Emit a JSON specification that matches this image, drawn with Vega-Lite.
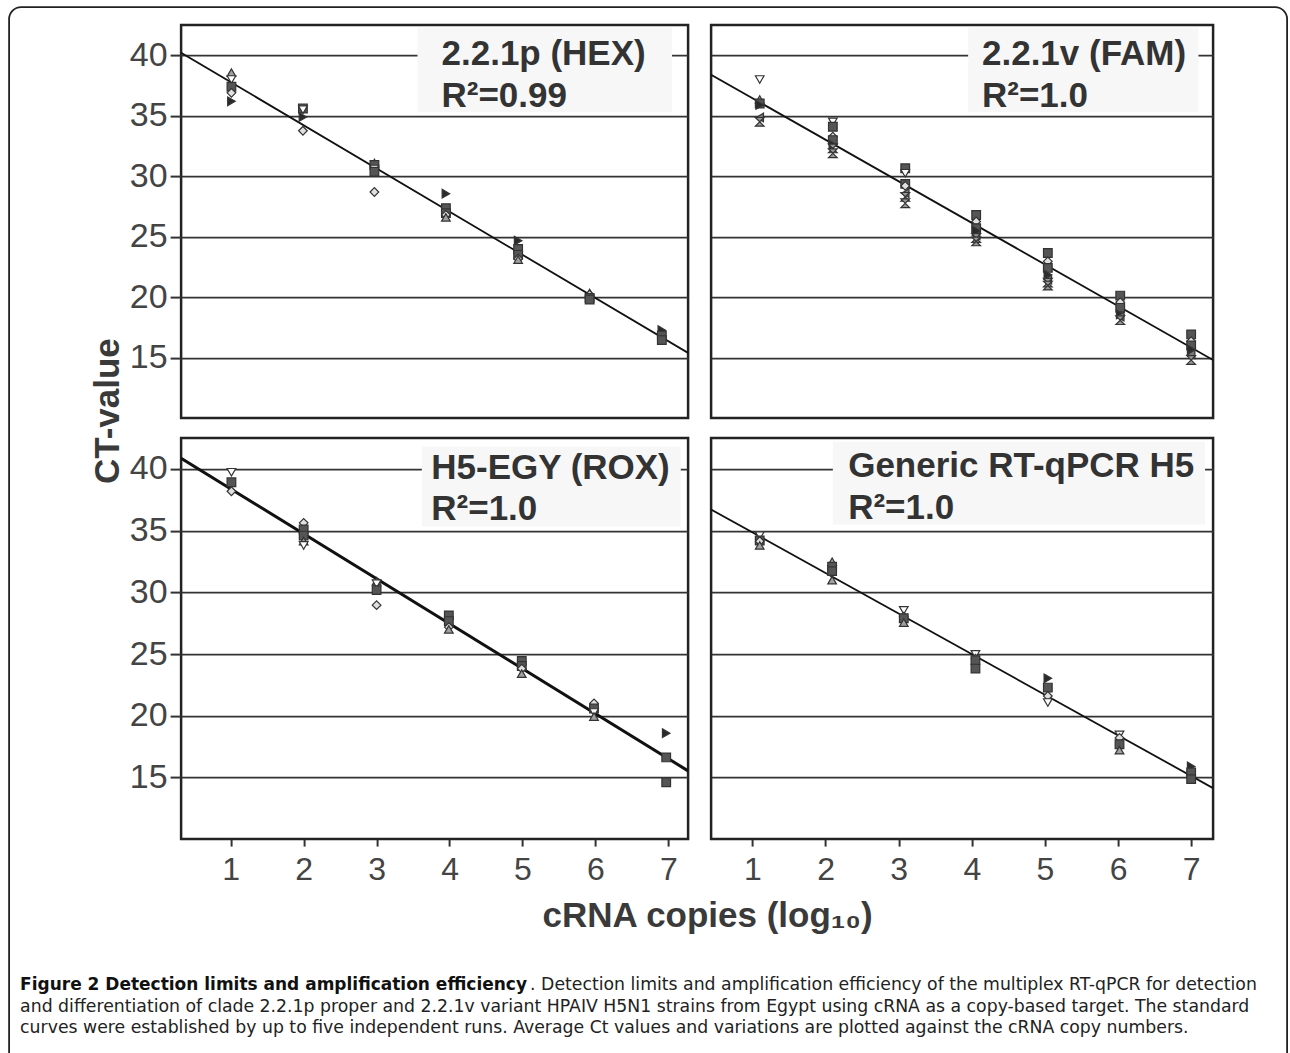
{
  "$schema": "https://vega.github.io/schema/vega-lite/v6.json",
  "background": "white",
  "padding": {"left": 8.1, "top": 6.1, "right": 2, "bottom": 0},
  "columns": 2,
  "spacing": {"row": 20, "column": 23},
  "bounds": "flush",
  "datasets": {
    "pts_tl": [
      {"x": 1.01, "y": 38.57, "s": "tup"}, {"x": 1.01, "y": 38.0, "s": "tdn"}, {"x": 1.01, "y": 37.4, "s": "sq"}, {"x": 1.01, "y": 36.9, "s": "dia"}, {"x": 1.01, "y": 36.2, "s": "trt"},
      {"x": 1.99, "y": 35.6, "s": "sq"}, {"x": 1.99, "y": 35.5, "s": "tdn"}, {"x": 1.99, "y": 34.9, "s": "trt"}, {"x": 1.99, "y": 33.76, "s": "dia"},
      {"x": 2.97, "y": 31.1, "s": "tup"}, {"x": 2.97, "y": 30.93, "s": "sq"}, {"x": 2.97, "y": 30.6, "s": "tdn"}, {"x": 2.97, "y": 30.38, "s": "sq"}, {"x": 2.97, "y": 28.7, "s": "dia"},
      {"x": 3.95, "y": 28.56, "s": "trt"}, {"x": 3.95, "y": 27.36, "s": "sq"}, {"x": 3.95, "y": 26.95, "s": "sq"}, {"x": 3.95, "y": 26.8, "s": "dia"}, {"x": 3.95, "y": 26.6, "s": "tup"},
      {"x": 4.94, "y": 24.67, "s": "trt"}, {"x": 4.94, "y": 23.98, "s": "sq"}, {"x": 4.94, "y": 23.5, "s": "sq"}, {"x": 4.94, "y": 23.18, "s": "dia"}, {"x": 4.94, "y": 23.1, "s": "tup"},
      {"x": 5.92, "y": 20.35, "s": "tup"}, {"x": 5.92, "y": 20.2, "s": "dia"}, {"x": 5.92, "y": 19.94, "s": "sq"}, {"x": 5.92, "y": 19.8, "s": "sq"},
      {"x": 6.91, "y": 17.27, "s": "trt"}, {"x": 6.91, "y": 16.84, "s": "sq"}, {"x": 6.91, "y": 16.45, "s": "sq"}
    ],
    "pts_tr": [
      {"x": 1.1, "y": 38.0, "s": "tdn"}, {"x": 1.1, "y": 36.35, "s": "tup"}, {"x": 1.1, "y": 36.02, "s": "sq"}, {"x": 1.1, "y": 35.9, "s": "trt"}, {"x": 1.1, "y": 34.86, "s": "tlt"}, {"x": 1.1, "y": 34.5, "s": "hg"},
      {"x": 2.1, "y": 34.5, "s": "tdn"}, {"x": 2.1, "y": 34.09, "s": "sq"}, {"x": 2.1, "y": 33.27, "s": "dia"}, {"x": 2.1, "y": 32.99, "s": "sq"}, {"x": 2.1, "y": 32.6, "s": "trt"}, {"x": 2.1, "y": 32.3, "s": "hg"}, {"x": 2.1, "y": 31.9, "s": "hg"},
      {"x": 3.09, "y": 30.66, "s": "sq"}, {"x": 3.09, "y": 30.25, "s": "tdn"}, {"x": 3.09, "y": 29.37, "s": "sq"}, {"x": 3.09, "y": 29.2, "s": "dia"}, {"x": 3.09, "y": 28.6, "s": "tlt"}, {"x": 3.09, "y": 28.3, "s": "hg"}, {"x": 3.09, "y": 27.77, "s": "hg"},
      {"x": 4.06, "y": 26.8, "s": "sq"}, {"x": 4.06, "y": 26.26, "s": "dia"}, {"x": 4.06, "y": 25.71, "s": "sq"}, {"x": 4.06, "y": 25.5, "s": "trt"}, {"x": 4.06, "y": 25.1, "s": "tlt"}, {"x": 4.06, "y": 24.89, "s": "hg"}, {"x": 4.06, "y": 24.61, "s": "hg"},
      {"x": 5.04, "y": 23.65, "s": "sq"}, {"x": 5.04, "y": 22.96, "s": "dia"}, {"x": 5.04, "y": 22.42, "s": "sq"}, {"x": 5.04, "y": 21.86, "s": "trt"}, {"x": 5.04, "y": 21.45, "s": "tlt"}, {"x": 5.04, "y": 21.2, "s": "hg"}, {"x": 5.04, "y": 20.96, "s": "hg"},
      {"x": 6.03, "y": 20.13, "s": "sq"}, {"x": 6.03, "y": 19.58, "s": "dia"}, {"x": 6.03, "y": 19.12, "s": "sq"}, {"x": 6.03, "y": 18.57, "s": "trt"}, {"x": 6.03, "y": 18.4, "s": "tlt"}, {"x": 6.03, "y": 18.1, "s": "hg"},
      {"x": 7.0, "y": 16.92, "s": "sq"}, {"x": 7.0, "y": 16.36, "s": "dia"}, {"x": 7.0, "y": 16.0, "s": "sq"}, {"x": 7.0, "y": 15.68, "s": "trt"}, {"x": 7.0, "y": 15.27, "s": "tlt"}, {"x": 7.0, "y": 14.8, "s": "hg"}
    ],
    "pts_bl": [
      {"x": 1.01, "y": 39.73, "s": "tdn"}, {"x": 1.01, "y": 38.92, "s": "sq"}, {"x": 1.01, "y": 38.19, "s": "dia"},
      {"x": 2.0, "y": 35.63, "s": "dia"}, {"x": 2.0, "y": 35.09, "s": "sq"}, {"x": 2.0, "y": 34.6, "s": "sq"}, {"x": 2.0, "y": 34.15, "s": "tup"}, {"x": 2.0, "y": 33.8, "s": "tdn"},
      {"x": 3.0, "y": 30.9, "s": "tup"}, {"x": 3.0, "y": 30.7, "s": "tdn"}, {"x": 3.0, "y": 30.18, "s": "sq"}, {"x": 3.0, "y": 28.96, "s": "dia"},
      {"x": 3.99, "y": 28.13, "s": "sq"}, {"x": 3.99, "y": 27.67, "s": "sq"}, {"x": 3.99, "y": 27.18, "s": "dia"}, {"x": 3.99, "y": 27.0, "s": "tup"},
      {"x": 4.99, "y": 24.43, "s": "sq"}, {"x": 4.99, "y": 24.03, "s": "sq"}, {"x": 4.99, "y": 23.82, "s": "dia"}, {"x": 4.99, "y": 23.41, "s": "tup"},
      {"x": 5.98, "y": 21.0, "s": "dia"}, {"x": 5.98, "y": 20.58, "s": "sq"}, {"x": 5.98, "y": 20.26, "s": "tdn"}, {"x": 5.98, "y": 19.93, "s": "tup"},
      {"x": 6.97, "y": 18.58, "s": "trt"}, {"x": 6.97, "y": 16.62, "s": "sq"}, {"x": 6.97, "y": 14.6, "s": "sq"}
    ],
    "pts_br": [
      {"x": 1.1, "y": 34.6, "s": "tdn"}, {"x": 1.1, "y": 34.2, "s": "sq"}, {"x": 1.1, "y": 34.14, "s": "dia"}, {"x": 1.1, "y": 33.8, "s": "tup"},
      {"x": 2.09, "y": 32.48, "s": "tup"}, {"x": 2.09, "y": 32.07, "s": "sq"}, {"x": 2.09, "y": 31.72, "s": "sq"}, {"x": 2.09, "y": 30.99, "s": "tup"},
      {"x": 3.07, "y": 28.54, "s": "tdn"}, {"x": 3.07, "y": 28.03, "s": "dia"}, {"x": 3.07, "y": 27.9, "s": "sq"}, {"x": 3.07, "y": 27.54, "s": "tup"},
      {"x": 4.05, "y": 24.97, "s": "tdn"}, {"x": 4.05, "y": 24.63, "s": "dia"}, {"x": 4.05, "y": 24.5, "s": "sq"}, {"x": 4.05, "y": 23.82, "s": "sq"},
      {"x": 5.04, "y": 23.03, "s": "trt"}, {"x": 5.04, "y": 22.28, "s": "sq"}, {"x": 5.04, "y": 21.6, "s": "dia"}, {"x": 5.04, "y": 21.07, "s": "tdn"},
      {"x": 6.02, "y": 18.45, "s": "tdn"}, {"x": 6.02, "y": 18.2, "s": "dia"}, {"x": 6.02, "y": 17.69, "s": "sq"}, {"x": 6.02, "y": 17.21, "s": "tup"},
      {"x": 7.0, "y": 15.89, "s": "trt"}, {"x": 7.0, "y": 15.4, "s": "sq"}, {"x": 7.0, "y": 14.86, "s": "sq"}
    ],
    "line_tl": [{"x": 0.32, "y": 40.22}, {"x": 7.27, "y": 15.39}],
    "line_tr": [{"x": 0.435, "y": 38.4}, {"x": 7.3, "y": 14.8}],
    "line_bl": [{"x": 0.32, "y": 40.87}, {"x": 7.27, "y": 15.53}],
    "line_br": [{"x": 0.435, "y": 36.72}, {"x": 7.3, "y": 14.13}],
    "caption": [
      {"line": 1, "seg": "title", "text": "Figure 2 Detection limits and amplification efficiency"},
      {"line": 1, "seg": "lead", "text": ". Detection limits and amplification efficiency of the multiplex RT-qPCR for detection"},
      {"line": 2, "seg": "body", "text": "and differentiation of clade 2.2.1p proper and 2.2.1v variant HPAIV H5N1 strains from Egypt using cRNA as a copy-based target. The standard"},
      {"line": 3, "seg": "body", "text": "curves were established by up to five independent runs. Average Ct values and variations are plotted against the cRNA copy numbers."}
    ]
  },
  "concat": [
    {
      "width": 507, "height": 393,
      "layer": [
        {"data": {"values": [{}]}, "mark": {"type": "rect", "fill": "#f7f7f7"},
         "encoding": {"x": {"datum": 3.56, "type": "quantitative", "scale": {"domain": [0.32, 7.27], "nice": false, "zero": false}, "axis": null}, "x2": {"datum": 7.05},
                      "y": {"datum": 42.3, "type": "quantitative", "scale": {"domain": [10, 42.5], "nice": false, "zero": false}}, "y2": {"datum": 35.3}}},
        {"data": {"name": "line_tl"}, "mark": {"type": "line", "color": "#111", "strokeWidth": 1.8, "clip": true},
         "encoding": {"x": {"field": "x", "type": "quantitative", "scale": {"domain": [0.32, 7.27], "nice": false, "zero": false}, "axis": null},
                      "y": {"field": "y", "type": "quantitative", "scale": {"domain": [10, 42.5], "nice": false, "zero": false}}}},
        {"data": {"name": "pts_tl"}, "mark": {"type": "point", "filled": true, "opacity": 1, "stroke": "#333", "strokeWidth": 1.2, "size": 75},
         "encoding": {"x": {"field": "x", "type": "quantitative", "scale": {"domain": [0.32, 7.27], "nice": false, "zero": false}, "axis": null},
                      "y": {"field": "y", "type": "quantitative", "scale": {"domain": [10, 42.5], "nice": false, "zero": false},
                            "axis": {"values": [15, 20, 25, 30, 35, 40], "grid": true, "gridColor": "#333", "gridWidth": 1.8, "domain": false, "ticks": true, "tickColor": "#333", "tickWidth": 2, "tickSize": 11, "labelFontSize": 34, "labelColor": "#444", "labelPadding": 3, "title": null}},
                      "shape": {"field": "s", "type": "nominal", "legend": null, "scale": {"domain": ["sq", "dia", "tup", "tdn", "trt", "tlt", "hg"], "range": ["square", "diamond", "triangle-up", "triangle-down", "triangle-right", "triangle-left", "M-1,-1L1,-1L-1,1L1,1Z"]}},
                      "fill": {"field": "s", "type": "nominal", "legend": null, "scale": {"domain": ["sq", "dia", "tup", "tdn", "trt", "tlt", "hg"], "range": ["#555555", "#e0e0e0", "#a0a0a0", "#ffffff", "#2a2a2a", "#777777", "#999999"]}}}},
        {"data": {"values": [{}]}, "mark": {"type": "text", "align": "left", "baseline": "alphabetic", "fontSize": 35, "fontWeight": "bold", "lineHeight": 42, "color": "#333"},
         "encoding": {"x": {"datum": 3.89, "type": "quantitative", "scale": {"domain": [0.32, 7.27], "nice": false, "zero": false}, "axis": null},
                      "y": {"datum": 39.22, "type": "quantitative", "scale": {"domain": [10, 42.5], "nice": false, "zero": false}},
                      "text": {"value": ["2.2.1p (HEX)", "R²=0.99"]}}}
      ]
    },
    {
      "width": 502, "height": 393,
      "layer": [
        {"data": {"values": [{}]}, "mark": {"type": "rect", "fill": "#f7f7f7"},
         "encoding": {"x": {"datum": 3.95, "type": "quantitative", "scale": {"domain": [0.435, 7.3], "nice": false, "zero": false}, "axis": null}, "x2": {"datum": 7.1},
                      "y": {"datum": 42.3, "type": "quantitative", "scale": {"domain": [10, 42.5], "nice": false, "zero": false}}, "y2": {"datum": 35.3}}},
        {"data": {"name": "line_tr"}, "mark": {"type": "line", "color": "#111", "strokeWidth": 1.8, "clip": true},
         "encoding": {"x": {"field": "x", "type": "quantitative", "scale": {"domain": [0.435, 7.3], "nice": false, "zero": false}, "axis": null},
                      "y": {"field": "y", "type": "quantitative", "scale": {"domain": [10, 42.5], "nice": false, "zero": false}}}},
        {"data": {"name": "pts_tr"}, "mark": {"type": "point", "filled": true, "opacity": 1, "stroke": "#333", "strokeWidth": 1.2, "size": 75},
         "encoding": {"x": {"field": "x", "type": "quantitative", "scale": {"domain": [0.435, 7.3], "nice": false, "zero": false}, "axis": null},
                      "y": {"field": "y", "type": "quantitative", "scale": {"domain": [10, 42.5], "nice": false, "zero": false},
                            "axis": {"values": [15, 20, 25, 30, 35, 40], "grid": true, "gridColor": "#333", "gridWidth": 1.8, "domain": false, "ticks": false, "labels": false, "title": null}},
                      "shape": {"field": "s", "type": "nominal", "legend": null, "scale": {"domain": ["sq", "dia", "tup", "tdn", "trt", "tlt", "hg"], "range": ["square", "diamond", "triangle-up", "triangle-down", "triangle-right", "triangle-left", "M-1,-1L1,-1L-1,1L1,1Z"]}},
                      "fill": {"field": "s", "type": "nominal", "legend": null, "scale": {"domain": ["sq", "dia", "tup", "tdn", "trt", "tlt", "hg"], "range": ["#555555", "#e0e0e0", "#a0a0a0", "#ffffff", "#2a2a2a", "#777777", "#999999"]}}}},
        {"data": {"values": [{}]}, "mark": {"type": "text", "align": "left", "baseline": "alphabetic", "fontSize": 35, "fontWeight": "bold", "lineHeight": 42, "color": "#333"},
         "encoding": {"x": {"datum": 4.14, "type": "quantitative", "scale": {"domain": [0.435, 7.3], "nice": false, "zero": false}, "axis": null},
                      "y": {"datum": 39.22, "type": "quantitative", "scale": {"domain": [10, 42.5], "nice": false, "zero": false}},
                      "text": {"value": ["2.2.1v (FAM)", "R²=1.0"]}}}
      ]
    },
    {
      "width": 507, "height": 401,
      "layer": [
        {"data": {"values": [{}]}, "mark": {"type": "rect", "fill": "#f7f7f7"},
         "encoding": {"x": {"datum": 3.62, "type": "quantitative", "scale": {"domain": [0.32, 7.27], "nice": false, "zero": false}}, "x2": {"datum": 7.17},
                      "y": {"datum": 41.8, "type": "quantitative", "scale": {"domain": [10, 42.5], "nice": false, "zero": false}}, "y2": {"datum": 35.33}}},
        {"data": {"name": "line_bl"}, "mark": {"type": "line", "color": "#111", "strokeWidth": 3, "clip": true},
         "encoding": {"x": {"field": "x", "type": "quantitative", "scale": {"domain": [0.32, 7.27], "nice": false, "zero": false}},
                      "y": {"field": "y", "type": "quantitative", "scale": {"domain": [10, 42.5], "nice": false, "zero": false}}}},
        {"data": {"name": "pts_bl"}, "mark": {"type": "point", "filled": true, "opacity": 1, "stroke": "#333", "strokeWidth": 1.2, "size": 75},
         "encoding": {"x": {"field": "x", "type": "quantitative", "scale": {"domain": [0.32, 7.27], "nice": false, "zero": false},
                            "axis": {"values": [1, 2, 3, 4, 5, 6, 7], "format": "d", "grid": false, "domain": false, "tickColor": "#333", "tickWidth": 2, "tickSize": 7, "labelFontSize": 32, "labelColor": "#444", "labelPadding": 8,
                                     "title": "cRNA copies (log₁₀)", "titleFontSize": 35, "titleFontWeight": "bold", "titleColor": "#3a3a3a", "titleX": 526, "titleY": 87, "titleAlign": "center", "titleBaseline": "alphabetic"}},
                      "y": {"field": "y", "type": "quantitative", "scale": {"domain": [10, 42.5], "nice": false, "zero": false},
                            "axis": {"values": [15, 20, 25, 30, 35, 40], "grid": true, "gridColor": "#333", "gridWidth": 1.8, "domain": false, "ticks": true, "tickColor": "#333", "tickWidth": 2, "tickSize": 11, "labelFontSize": 34, "labelColor": "#444", "labelPadding": 3,
                                     "title": "CT-value", "titleFontSize": 35, "titleFontWeight": "bold", "titleColor": "#3a3a3a", "titleAngle": 270, "titleX": -62.5, "titleY": -27.5, "titleAlign": "center", "titleBaseline": "alphabetic"}},
                      "shape": {"field": "s", "type": "nominal", "legend": null, "scale": {"domain": ["sq", "dia", "tup", "tdn", "trt", "tlt", "hg"], "range": ["square", "diamond", "triangle-up", "triangle-down", "triangle-right", "triangle-left", "M-1,-1L1,-1L-1,1L1,1Z"]}},
                      "fill": {"field": "s", "type": "nominal", "legend": null, "scale": {"domain": ["sq", "dia", "tup", "tdn", "trt", "tlt", "hg"], "range": ["#555555", "#e0e0e0", "#a0a0a0", "#ffffff", "#2a2a2a", "#777777", "#999999"]}}}},
        {"data": {"values": [{}]}, "mark": {"type": "text", "align": "left", "baseline": "alphabetic", "fontSize": 35, "fontWeight": "bold", "lineHeight": 41, "color": "#333"},
         "encoding": {"x": {"datum": 3.75, "type": "quantitative", "scale": {"domain": [0.32, 7.27], "nice": false, "zero": false}},
                      "y": {"datum": 39.22, "type": "quantitative", "scale": {"domain": [10, 42.5], "nice": false, "zero": false}},
                      "text": {"value": ["H5-EGY (ROX)", "R²=1.0"]}}}
      ]
    },
    {
      "width": 502, "height": 401,
      "layer": [
        {"data": {"values": [{}]}, "mark": {"type": "rect", "fill": "#f7f7f7"},
         "encoding": {"x": {"datum": 2.1, "type": "quantitative", "scale": {"domain": [0.435, 7.3], "nice": false, "zero": false}}, "x2": {"datum": 7.19},
                      "y": {"datum": 42.2, "type": "quantitative", "scale": {"domain": [10, 42.5], "nice": false, "zero": false}}, "y2": {"datum": 35.5}}},
        {"data": {"name": "line_br"}, "mark": {"type": "line", "color": "#111", "strokeWidth": 1.8, "clip": true},
         "encoding": {"x": {"field": "x", "type": "quantitative", "scale": {"domain": [0.435, 7.3], "nice": false, "zero": false}},
                      "y": {"field": "y", "type": "quantitative", "scale": {"domain": [10, 42.5], "nice": false, "zero": false}}}},
        {"data": {"name": "pts_br"}, "mark": {"type": "point", "filled": true, "opacity": 1, "stroke": "#333", "strokeWidth": 1.2, "size": 75},
         "encoding": {"x": {"field": "x", "type": "quantitative", "scale": {"domain": [0.435, 7.3], "nice": false, "zero": false},
                            "axis": {"values": [1, 2, 3, 4, 5, 6, 7], "format": "d", "grid": false, "domain": false, "tickColor": "#333", "tickWidth": 2, "tickSize": 7, "labelFontSize": 32, "labelColor": "#444", "labelPadding": 8, "title": null}},
                      "y": {"field": "y", "type": "quantitative", "scale": {"domain": [10, 42.5], "nice": false, "zero": false},
                            "axis": {"values": [15, 20, 25, 30, 35, 40], "grid": true, "gridColor": "#333", "gridWidth": 1.8, "domain": false, "ticks": false, "labels": false, "title": null}},
                      "shape": {"field": "s", "type": "nominal", "legend": null, "scale": {"domain": ["sq", "dia", "tup", "tdn", "trt", "tlt", "hg"], "range": ["square", "diamond", "triangle-up", "triangle-down", "triangle-right", "triangle-left", "M-1,-1L1,-1L-1,1L1,1Z"]}},
                      "fill": {"field": "s", "type": "nominal", "legend": null, "scale": {"domain": ["sq", "dia", "tup", "tdn", "trt", "tlt", "hg"], "range": ["#555555", "#e0e0e0", "#a0a0a0", "#ffffff", "#2a2a2a", "#777777", "#999999"]}}}},
        {"data": {"values": [{}]}, "mark": {"type": "text", "align": "left", "baseline": "alphabetic", "fontSize": 35, "fontWeight": "bold", "lineHeight": 42, "color": "#333"},
         "encoding": {"x": {"datum": 2.31, "type": "quantitative", "scale": {"domain": [0.435, 7.3], "nice": false, "zero": false}},
                      "y": {"datum": 39.38, "type": "quantitative", "scale": {"domain": [10, 42.5], "nice": false, "zero": false}},
                      "text": {"value": ["Generic RT-qPCR H5", "R²=1.0"]}}}
      ]
    },
    {
      "width": 507, "height": 190,
      "view": {"stroke": null},
      "data": {"name": "caption"},
      "layer": [
        {"data": {"values": [{}]},
         "mark": {"type": "rect", "fill": null, "stroke": "#222", "strokeWidth": 1.8, "cornerRadius": 12},
         "encoding": {"x": {"datum": -172, "type": "quantitative", "scale": {"domain": [0, 507], "nice": false, "zero": false}, "axis": null}, "x2": {"datum": 1106},
                      "y": {"datum": -44.3, "type": "quantitative", "scale": {"domain": [-5.037, 3.719], "reverse": true, "nice": false, "zero": false}, "axis": null}, "y2": {"datum": 4.687}}},
        {"transform": [{"filter": "datum.seg === 'title'"}],
         "mark": {"type": "text", "align": "left", "baseline": "alphabetic", "font": "DejaVu Sans", "fontSize": 17, "fontWeight": "bold", "color": "#111"},
         "encoding": {"x": {"datum": -161, "type": "quantitative", "scale": {"domain": [0, 507], "nice": false, "zero": false}, "axis": null},
                      "y": {"field": "line", "type": "quantitative", "scale": {"domain": [-5.037, 3.719], "reverse": true, "nice": false, "zero": false}, "axis": null},
                      "text": {"field": "text"}}},
        {"transform": [{"filter": "datum.seg === 'lead'"}],
         "mark": {"type": "text", "align": "left", "baseline": "alphabetic", "font": "DejaVu Sans", "fontSize": 17.3, "color": "#222"},
         "encoding": {"x": {"datum": 349, "type": "quantitative", "scale": {"domain": [0, 507], "nice": false, "zero": false}, "axis": null},
                      "y": {"field": "line", "type": "quantitative", "scale": {"domain": [-5.037, 3.719], "reverse": true, "nice": false, "zero": false}, "axis": null},
                      "text": {"field": "text"}}},
        {"transform": [{"filter": "datum.seg === 'body'"}],
         "mark": {"type": "text", "align": "left", "baseline": "alphabetic", "font": "DejaVu Sans", "fontSize": 17.3, "color": "#222"},
         "encoding": {"x": {"datum": -161, "type": "quantitative", "scale": {"domain": [0, 507], "nice": false, "zero": false}, "axis": null},
                      "y": {"field": "line", "type": "quantitative", "scale": {"domain": [-5.037, 3.719], "reverse": true, "nice": false, "zero": false}, "axis": null},
                      "text": {"field": "text"}}}
      ]
    }
  ],
  "config": {
    "font": "Liberation Sans",
    "view": {"stroke": "#222", "strokeWidth": 2.5},
    "axis": {"labelFont": "Liberation Sans", "titleFont": "Liberation Sans"}
  }
}
